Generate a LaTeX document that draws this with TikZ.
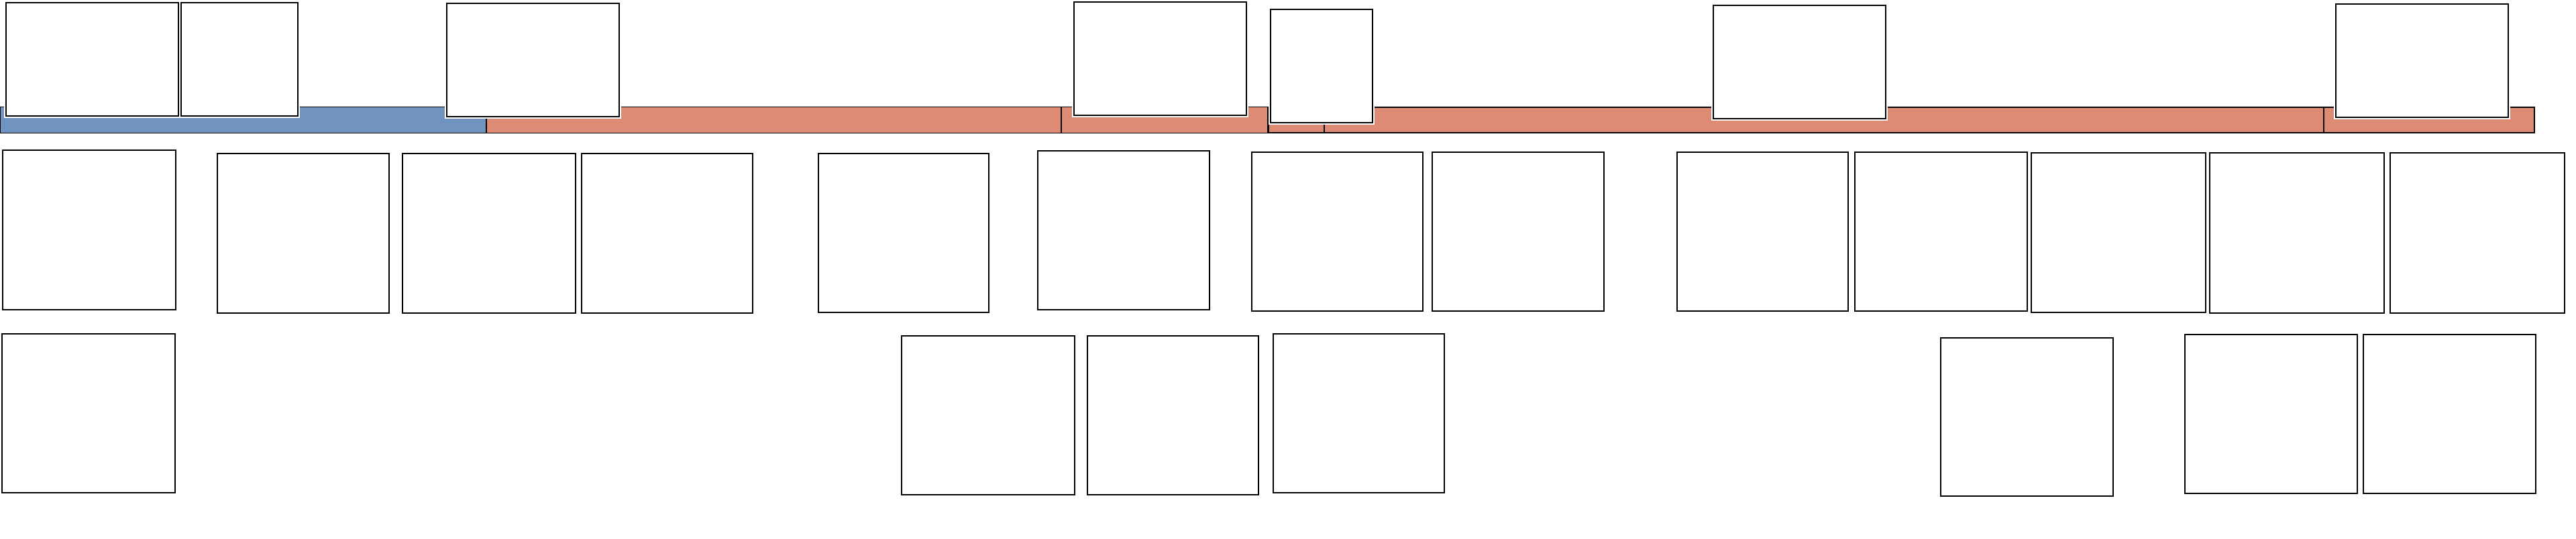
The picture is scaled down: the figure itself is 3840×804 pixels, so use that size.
\documentclass[tikz,border=0pt]{standalone}
\usetikzlibrary{fit}
\definecolor{barblue}{HTML}{7193C0}
\definecolor{barsalmon}{HTML}{DE8B76}
\tikzset{
  card/.style={draw=black, fill=white, inner sep=0pt, line width=0.42pt},
  topcard/.style={card, preaction={draw=white, line width=1.9pt}},
  midcard/.style={card, line width=0.55pt},
  boldcard/.style={card, line width=0.75pt},
  barpart/.style={inner sep=0pt, line width=0.42pt},
  divider/.style={draw=black, line width=0.72pt},
}
\begin{document}
\begin{tikzpicture}[x=0.01cm, y=-0.01cm]
\useasboundingbox (0,0) rectangle (3840,804);
% timeline bar
\node[barpart, fill=barsalmon, fit={(1,160) (1889,198)}] (bar1) {};
\node[barpart, fill=barblue, fit={(1,160) (725,198)}] (blue) {};
\draw[line width=0.42pt] (bar1.north west) rectangle (bar1.south east);
\node[barpart, draw=black, fill=barsalmon, fit={(1891,160) (3778,198)}] (bar2) {};
\draw[divider] (725,160) -- (725,198);
\draw[divider] (1582,160) -- (1582,198);
\draw[divider] (1974,160) -- (1974,198);
\draw[divider] (3464,160) -- (3464,198);
% top row
\node[topcard, fit={(9,4) (266,173)}] (A) {};
\node[topcard, fit={(270,4) (444,173)}] (B) {};
\node[topcard, fit={(666,5) (923,174)}] (C) {};
\node[topcard, fit={(1601,3) (1858,172)}] (D) {};
\node[topcard, fit={(1894,14) (2046,183)}] (E) {};
\node[topcard, fit={(2554,8) (2811,177)}] (F) {};
\node[topcard, fit={(3482,6) (3739,175)}] (G) {};
% middle row
\node[midcard, fit={(4,224) (262,462)}] (H) {};
\node[midcard, fit={(324,229) (580,467)}] (I) {};
\node[midcard, fit={(600,229) (858,467)}] (J) {};
\node[midcard, fit={(867,229) (1122,467)}] (K) {};
\node[midcard, fit={(1220,229) (1474,466)}] (L) {};
\node[midcard, fit={(1547,225) (1803,462)}] (M) {};
\node[midcard, fit={(1866,227) (2121,464)}] (N) {};
\node[midcard, fit={(2135,227) (2391,464)}] (O) {};
\node[midcard, fit={(2500,227) (2755,464)}] (P) {};
\node[midcard, fit={(2765,227) (3022,464)}] (Q) {};
\node[boldcard, fit={(3028,228) (3288,466)}] (R) {};
\node[boldcard, fit={(3294,228) (3554,467)}] (S) {};
\node[boldcard, fit={(3563,228) (3823,467)}] (T) {};
% bottom row
\node[midcard, fit={(3,498) (261,735)}] (U) {};
\node[midcard, fit={(1344,501) (1602,738)}] (V) {};
\node[midcard, fit={(1621,501) (1876,738)}] (W) {};
\node[midcard, fit={(1898,498) (2153,735)}] (X) {};
\node[midcard, fit={(2893,504) (3150,740)}] (Y) {};
\node[midcard, fit={(3257,499) (3514,736)}] (Z) {};
\node[midcard, fit={(3523,499) (3780,736)}] (AA) {};
\end{tikzpicture}
\end{document}
